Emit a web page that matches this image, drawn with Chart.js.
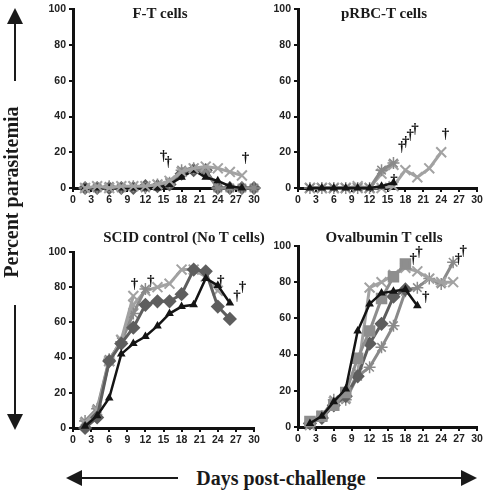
<!DOCTYPE html>
<html>
<head>
<meta charset="utf-8">
<script src="https://cdn.jsdelivr.net/npm/chart.js@4"></script>
<style>
body { margin: 0; background: #fff; width: 487px; height: 493px; position: relative; overflow: hidden;
       font-family: "Liberation Serif", "Times New Roman", serif; color: #1a1a1a; }
canvas { position: absolute; }
.title { position: absolute; font-weight: bold; font-size: 15px; line-height: 16px; white-space: nowrap; transform: translateX(-50%); }
.big { position: absolute; font-weight: bold; font-size: 20px; line-height: 22px; white-space: nowrap; }
.ln { position: absolute; background: #1a1a1a; }
.tri { position: absolute; width: 0; height: 0; }
</style>
</head>
<body>
<canvas id="p1"></canvas>
<canvas id="p2"></canvas>
<canvas id="p3"></canvas>
<canvas id="p4"></canvas>

<div class="title" style="left:160px;top:5px">F-T cells</div>
<div class="title" style="left:384px;top:5px">pRBC-T cells</div>
<div class="title" style="left:184px;top:229px">SCID control (No T cells)</div>
<div class="title" style="left:384px;top:229px">Ovalbumin T cells</div>

<!-- vertical axis title with arrows -->
<div class="big" style="left:11px;top:192px;transform:translate(-50%,-50%) rotate(-90deg)">Percent parasitemia</div>
<div class="tri" style="left:7px;top:8px;border-left:8px solid transparent;border-right:8px solid transparent;border-bottom:16px solid #1a1a1a"></div>
<div class="ln" style="left:14px;top:23px;width:2px;height:58px"></div>
<div class="ln" style="left:14px;top:305px;width:2px;height:110px"></div>
<div class="tri" style="left:7px;top:414px;border-left:8px solid transparent;border-right:8px solid transparent;border-top:16px solid #1a1a1a"></div>

<!-- horizontal axis title with arrows -->
<div class="big" style="left:281px;top:478px;transform:translate(-50%,-50%)">Days post-challenge</div>
<div class="tri" style="left:66px;top:470px;border-top:8px solid transparent;border-bottom:8px solid transparent;border-right:16px solid #1a1a1a"></div>
<div class="ln" style="left:82px;top:477px;width:96px;height:2px"></div>
<div class="ln" style="left:377px;top:477px;width:85px;height:2px"></div>
<div class="tri" style="left:461px;top:470px;border-top:8px solid transparent;border-bottom:8px solid transparent;border-left:16px solid #1a1a1a"></div>

<script>
// days post-challenge and percent parasitemia
const ftDays = [2, 4, 6, 8, 10, 12, 14, 16, 18, 20, 22, 24, 26, 28, 30];
const ftBlack   = [0, 0, 0, 0, 0, 0, 0, 2, 6, 10, 6, 4, 1, 0];
const ftDiamond = [0, 0, 0, 0, 0, 1, 1, 2, 8, 10, 10, 0, 0, 0, 0];
const ftCross   = [0, 1, 0, 1, 1, 1, 2, 4, 9, 11, 12, 11, 9, 7];
const ftStar    = [0, 0, 1, 0, 1, 0, 2, 3, 10, 11, 9, 0, 0, 0, 0];
const ftDaggerX = [15, 15.8, 28.6];
const ftDaggerY = [18, 14.5, 16.5];

const prDays = [2, 4, 6, 8, 10, 12, 14, 16, 18, 20, 22, 24];
const prBlack = [0, 0, 0, 0, 0, 0, 1, 3];
const prStar  = [0, 0, 0, 0, 0, 0, 10, 14];
const prCross = [0, 0, 0, 0, 1, 0, 8, 13];
const prBig   = [0, 0, 0, 0, 0, 0, 0, 1, 10, 6, 11, 20];
const prDaggerX = [16.1, 17.4, 18.05, 18.8, 19.6, 24.7];
const prDaggerY = [4.5, 23, 25.7, 29.4, 33, 30];

const scDays = [2, 4, 6, 8, 10, 12, 14, 16, 18, 20, 22, 24, 26];
const scBlack   = [1, 7, 17, 42, 48, 52, 58, 65, 69, 70, 85, 81, 71];
const scDiamond = [0, 6, 38, 48, 57, 70, 72, 72, 76, 90, 89, 69, 62];
const scCrossA  = [3, 10, 38, 50, 75];
const scCrossB  = [4, 11, 39, 49, 65, 79];
const scCrossC  = [2, 9, 38, 50, 70, 78, 80, 82, 90, 90, 86, 78];
const scDaggerX = [10.2, 12.9, 24.5, 27.2, 28.1];
const scDaggerY = [82, 83.5, 83.5, 75, 80];

const ovDays = [2, 4, 6, 8, 10, 12, 14, 16, 18, 20, 22, 24, 26];
const ovBlack   = [2, 6, 14, 21, 53, 68, 74, 75, 76, 67];
const ovSquare  = [3, 6, 12, 19, 38, 53, 71, 83, 90];
const ovDiamond = [2, 5, 12, 17, 28, 46, 57, 72, 76];
const ovCross   = [1, 6, 14, 16, 30, 77, 80, 84, 88, 86, 82, 80, 80];
const ovStar    = [2, 6, 15, 15, 28, 33, 44, 56, 75, 77, 82, 79, 91];
const ovDaggerX = [19.3, 20.3, 21.4, 26.9, 27.7];
const ovDaggerY = [93, 96.7, 71.5, 93, 97];

const xTicks = [0, 3, 6, 9, 12, 15, 18, 21, 24, 27, 30];

const styles = {
    black:   { borderColor: '#141414', backgroundColor: '#141414', borderWidth: 2.5, pointStyle: 'triangle', pointRadius: 2.5 },
    diamond: { borderColor: '#5e5e5e', backgroundColor: '#5e5e5e', borderWidth: 3, pointStyle: 'rectRot', pointRadius: 5 },
    square:  { borderColor: '#8e8e8e', backgroundColor: '#8e8e8e', borderWidth: 3, pointStyle: 'rect', pointRadius: 6 },
    cross:   { borderColor: '#a2a2a2', backgroundColor: '#a2a2a2', borderWidth: 3, pointStyle: 'crossRot', pointRadius: 7, pointBorderWidth: 2 },
    star:    { borderColor: '#8a8a8a', backgroundColor: '#8a8a8a', borderWidth: 3, pointStyle: 'star', pointRadius: 6, pointBorderWidth: 1.5 }
};

function series(days, vals, style) {
    return Object.assign({
        data: days.map((d, i) => ({ x: d, y: vals[i] })).filter(p => p.y != null),
        tension: 0,
        clip: false
    }, styles[style]);
}

// draws the death markers at data positions
const daggerPlugin = {
    id: 'daggers',
    afterDatasetsDraw(chart, args, opts) {
        const { ctx } = chart;
        const x = chart.scales.x, y = chart.scales.y;
        ctx.save();
        ctx.font = 'bold 15px "Liberation Serif"';
        ctx.fillStyle = '#111';
        ctx.textAlign = 'center';
        ctx.textBaseline = 'middle';
        opts.xs.forEach((d, i) => ctx.fillText('\u2020', x.getPixelForValue(d), y.getPixelForValue(opts.ys[i])));
        ctx.restore();
    }
};

const tickFont = { family: 'Liberation Sans', weight: 'bold', size: 10.5 };

function makePanel(id, box, datasets, dx, dy) {
    const el = document.getElementById(id);
    el.style.left = box.left + 'px';
    el.style.top = box.top + 'px';
    el.width = box.w; el.height = box.h;
    el.style.width = box.w + 'px'; el.style.height = box.h + 'px';
    return new Chart(el, {
        type: 'line',
        data: { datasets: datasets },
        plugins: [daggerPlugin],
        options: {
            responsive: false,
            animation: false,
            events: [],
            layout: { padding: { top: box.pt, right: box.pr, left: 0, bottom: 0 } },
            plugins: { legend: { display: false }, tooltip: { enabled: false }, daggers: { xs: dx, ys: dy } },
            scales: {
                x: {
                    type: 'linear', min: 0, max: 30,
                    afterBuildTicks: s => { s.ticks = xTicks.map(v => ({ value: v })); },
                    ticks: { font: tickFont, color: '#222', padding: 2, maxRotation: 0, autoSkip: false },
                    grid: { drawOnChartArea: false, tickLength: 4, color: '#111', lineWidth: 2 },
                    border: { color: '#111', width: 3 },
                    afterFit: s => { s.height = box.xh; }
                },
                y: {
                    min: 0, max: 100,
                    ticks: { stepSize: 20, font: tickFont, color: '#222', padding: 3 },
                    grid: { drawOnChartArea: false, tickLength: 4, color: '#111', lineWidth: 2 },
                    border: { color: '#111', width: 3 },
                    afterFit: s => { s.width = box.yw; }
                }
            }
        }
    });
}

makePanel('p1', { left: 0, top: 0, w: 266, h: 212, pt: 8, pr: 12, xh: 24, yw: 73 }, [
    series(ftDays, ftCross, 'cross'),
    series(ftDays, ftBlack, 'black'),
    series(ftDays, ftStar, 'star'),
    series(ftDays, ftDiamond, 'diamond')
], ftDaggerX, ftDaggerY);

makePanel('p2', { left: 240, top: 0, w: 247, h: 212, pt: 8, pr: 10, xh: 24, yw: 58 }, [
    series(prDays, prBlack, 'black'),
    series(prDays, prStar, 'star'),
    series(prDays, prCross, 'cross'),
    series(prDays, prBig, 'cross')
], prDaggerX, prDaggerY);

makePanel('p3', { left: 0, top: 240, w: 266, h: 212, pt: 12, pr: 12, xh: 24, yw: 73 }, [
    series(scDays, scBlack, 'black'),
    series(scDays, scDiamond, 'diamond'),
    series(scDays, scCrossA, 'cross'),
    series(scDays, scCrossB, 'star'),
    series(scDays, scCrossC, 'cross')
], scDaggerX, scDaggerY);

makePanel('p4', { left: 240, top: 234, w: 247, h: 218, pt: 12, pr: 10, xh: 25, yw: 58 }, [
    series(ovDays, ovBlack, 'black'),
    series(ovDays, ovSquare, 'square'),
    series(ovDays, ovDiamond, 'diamond'),
    series(ovDays, ovCross, 'cross'),
    series(ovDays, ovStar, 'star')
], ovDaggerX, ovDaggerY);
</script>
</body>
</html>
